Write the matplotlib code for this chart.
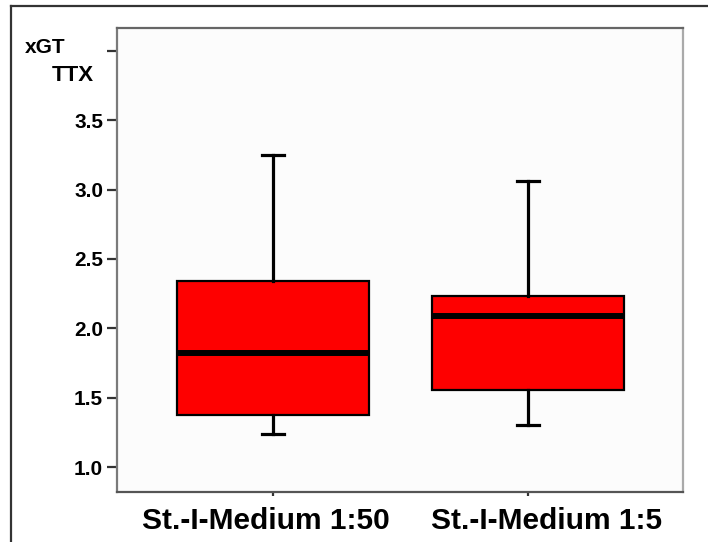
import matplotlib
matplotlib.use("Agg")
import matplotlib.pyplot as plt
from matplotlib.lines import Line2D
from matplotlib.transforms import ScaledTranslation

plt.rcParams['font.family'] = ['Liberation Sans', 'DejaVu Sans']

# ---- data ----
categories = ["St.-I-Medium 1:50", "St.-I-Medium 1:5"]
whisker_low = [1.24, 1.30]
q1 = [1.375, 1.555]
median = [1.82, 2.09]
q3 = [2.34, 2.23]
whisker_high = [3.25, 3.06]
ytick_values = [1.0, 1.5, 2.0, 2.5, 3.0, 3.5, 4.0]
ytick_labels = ["1.0", "1.5", "2.0", "2.5", "3.0", "3.5", ""]
ylabel_lines = ["xGT", "TTX"]

W, H = 708, 542
fig = plt.figure(figsize=(W / 100, H / 100), dpi=100)
fig.patch.set_facecolor("white")

ax = fig.add_axes([117 / W, 1 - 492 / H, (683 - 117) / W, (492 - 28) / H])
ax.set_facecolor("#fcfcfc")

stats = []
for i in range(len(categories)):
    stats.append(dict(med=median[i], q1=q1[i], q3=q3[i],
                      whislo=whisker_low[i], whishi=whisker_high[i],
                      fliers=[], label=categories[i]))

positions = [1, 2]
ax.bxp(stats, positions=positions, widths=0.75, patch_artist=True,
       showfliers=False, capwidths=0.086,
       boxprops=dict(facecolor="#fe0000", edgecolor="black", linewidth=1.6),
       medianprops=dict(color="black", linewidth=4.3, solid_capstyle="butt"),
       whiskerprops=dict(color="black", linewidth=2.3),
       capprops=dict(color="black", linewidth=2.3))

ax.set_xlim(0.388, 2.608)
ax.set_ylim(0.82, 4.165)

ax.set_yticks(ytick_values)
ax.set_yticklabels(ytick_labels, fontsize=15, fontweight="bold")
ax.set_xticks(positions)
ax.set_xticklabels(categories, fontsize=21.5, fontweight="bold")

ax.tick_params(axis="y", direction="out", length=7.5, width=1.6,
               color="#333333", pad=2.5)
ax.tick_params(axis="x", direction="out", length=3, width=1.6,
               color="#333333", pad=8)

# individual horizontal offsets of the category labels
offsets = [-7, 19]
for lab, dx in zip(ax.get_xticklabels(), offsets):
    lab.set_transform(lab.get_transform() +
                      ScaledTranslation(dx / 100, 0, fig.dpi_scale_trans))

ax.spines["left"].set_color("#7a7a7a")
ax.spines["top"].set_color("#666666")
ax.spines["right"].set_color("#aaaaaa")
ax.spines["bottom"].set_color("#555555")
for s in ax.spines.values():
    s.set_linewidth(1.6)

# y-axis label drawn as two lines in place of the top tick label
fig.text(25 / W, 1 - 53 / H, ylabel_lines[0], fontsize=15, fontweight="bold",
         ha="left", va="baseline")
fig.text(94 / W, 1 - 81 / H, ylabel_lines[1], fontsize=16, fontweight="bold",
         ha="right", va="baseline")

# outer frame (only top and left edges visible)
fig.add_artist(Line2D([10.5 / W, 1.0], [1 - 6 / H, 1 - 6 / H],
                      color="#333333", linewidth=1.6, transform=fig.transFigure))
fig.add_artist(Line2D([10.5 / W, 10.5 / W], [0.0, 1 - 6 / H],
                      color="#333333", linewidth=1.6, transform=fig.transFigure))

fig.savefig("out.png", dpi=100)
